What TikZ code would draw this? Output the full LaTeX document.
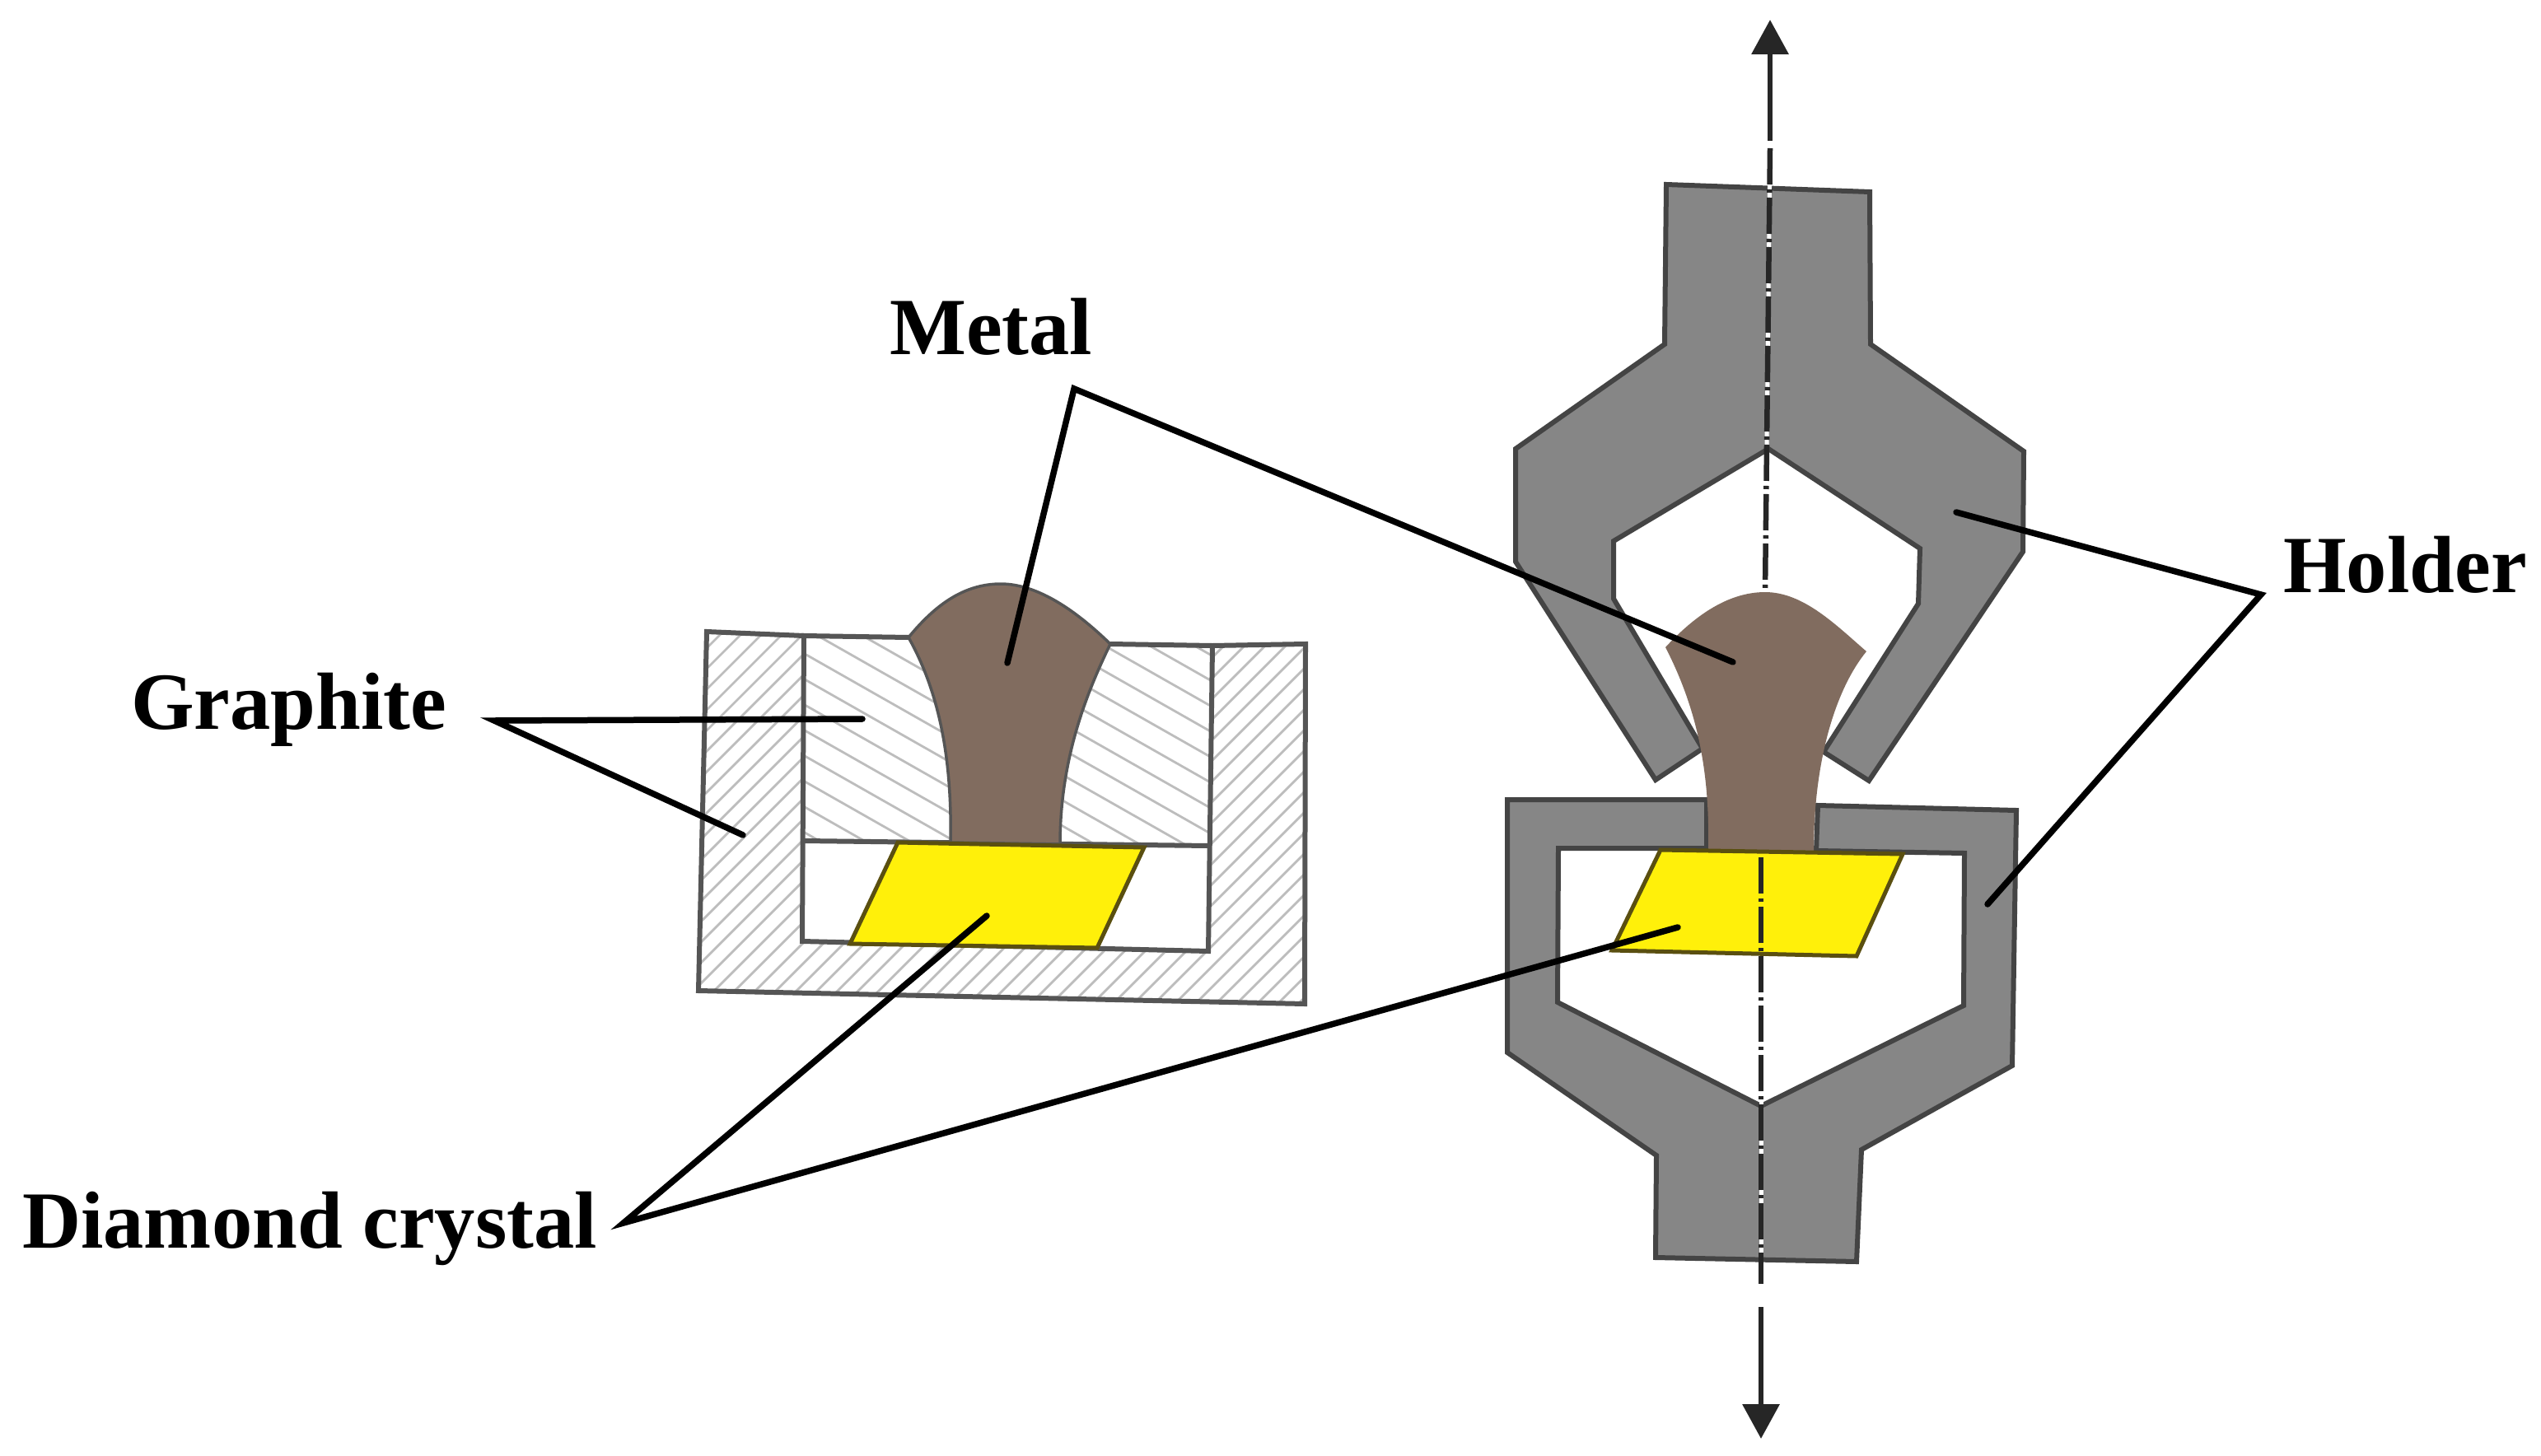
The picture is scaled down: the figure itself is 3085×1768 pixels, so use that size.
\documentclass[tikz,border=0pt]{standalone}
\usepackage{fontspec}
\setmainfont{Liberation Serif}
\usetikzlibrary{arrows.meta}
\definecolor{holderfill}{HTML}{868686}
\definecolor{holderline}{HTML}{444444}
\definecolor{metalfill}{HTML}{816C5F}
\definecolor{crystalfill}{HTML}{FFF00A}
\definecolor{crystalline}{HTML}{5A4F10}
\definecolor{hatchcol}{HTML}{BDBDBD}
\definecolor{graphline}{HTML}{555555}
\tikzset{
  labeltext/.style={anchor=base west,inner sep=0pt,font=\fontsize{98.5}{99}\selectfont\bfseries,text=black},
  leader/.style={draw=black,line width=7.5pt,line cap=round,line join=miter},
  holder/.style={fill=holderfill,draw=holderline,line width=6pt,line join=miter},
  metal/.style={fill=metalfill,line join=round},
  crystal/.style={fill=crystalfill,draw=crystalline,line width=5pt,line join=miter},
  graphoutline/.style={draw=graphline,line width=6pt},
  hatchline/.style={draw=hatchcol,line width=2.8pt},
  axisunder/.style={draw=white,line width=5pt},
  axisdash/.style={draw=black!85,line width=6.5pt,dash pattern=on 44pt off 6pt on 4pt off 6pt},
  axissolid/.style={draw=black!85,line width=6.5pt},
  axistip/.style={-{Triangle[width=44pt,length=42pt]}},
}
\begin{document}
\begin{tikzpicture}[x=1pt,y=-1pt]
\useasboundingbox (0,0) rectangle (3085,1768);
\fill[white] (0,0) rectangle (3085,1768);
% graphite hatching
\begin{scope}
\clip (858,767) -- (976,772) -- (974,1143) -- (1467,1155) -- (1472,784) -- (1585,782) -- (1584,1219) -- (848,1203) -- cycle;
\foreach \k in {-20,...,42}
  \draw[hatchline] ({840+\k*25},1230) -- ({840+\k*25+480},750);
\end{scope}
\begin{scope}
\clip (976,772) -- (1472,784) -- (1468,1027) -- (976,1021) -- cycle;
\foreach \k in {-20,...,10}
  \draw[hatchline] (970,{790+\k*31}) -- (1480,{790+\k*31+290});
\end{scope}
% graphite outlines
\draw[graphoutline,line join=miter] (976,772) -- (858,767) -- (848,1203) -- (1584,1219) -- (1585,782) -- (1472,784);
\draw[graphoutline,line join=miter] (1103,774) -- (976,772) -- (974,1143) -- (1467,1155) -- (1472,784) -- (1348,782);
\draw[graphoutline] (976,1021) -- (1468,1027);
% left metal
\path[metal,draw=graphline,line width=3.5pt]
  (1103,774) .. controls (1135,735) and (1170,709) .. (1215,709)
  .. controls (1262,709) and (1310,745) .. (1348,782)
  .. controls (1320,840) and (1287,920) .. (1287,1025)
  -- (1154,1023)
  .. controls (1156,920) and (1140,840) .. (1103,774) -- cycle;
\draw[crystal] (1090,1023) -- (1389,1029) -- (1332,1151) -- (1032,1146) -- cycle;
% upper holder
\draw[holder] (2023,224) -- (2270,233) -- (2271,418) -- (2457,548) -- (2456,670) -- (2269,948) -- (2214,913) -- (2329,733) -- (2331,666) -- (2147,545) -- (1959,657) -- (1959,727) -- (2067,909) -- (2010,947) -- (1840,682) -- (1840,545) -- (2021,418) -- cycle;
% lower holder
\draw[holder] (1830,971) -- (2072,971) -- (2072,1030) -- (1892,1030) -- (1891,1217) -- (2138,1343) -- (2384,1221) -- (2385,1036) -- (2205,1033) -- (2207,978) -- (2448,984) -- (2443,1294) -- (2260,1396) -- (2254,1532) -- (2010,1527) -- (2011,1403) -- (1830,1278) -- cycle;
% axis under the metal (upper part)
\coordinate (axtopA) at (2149,171);
\coordinate (axtip) at (2149,24);
\coordinate (axmidA) at (2149,180);
\coordinate (axmidB) at (2143,719);
\coordinate (axlowA) at (2138,1041);
\coordinate (axlowC) at (2138,1165);
\coordinate (axlowB) at (2138,1559);
\coordinate (axbotA) at (2138,1587);
\coordinate (axbot) at (2138,1747);
\draw[axisunder] (axmidA) -- (axmidB);
\draw[axisdash] (axmidA) -- (axmidB);
% right metal
\path[metal]
  (2022,786) .. controls (2060,745) and (2100,719) .. (2143,719)
  .. controls (2190,719) and (2230,760) .. (2266,791)
  .. controls (2230,835) and (2202,920) .. (2202,1033)
  -- (2074,1032)
  .. controls (2076,935) and (2060,860) .. (2022,786) -- cycle;
\draw[crystal] (2016,1032) -- (2310,1037) -- (2254,1161) -- (1957,1154) -- cycle;
\draw[axisunder] (axlowC) -- (axlowB);
\draw[axisdash] (axlowA) -- (axlowB);
\draw[axissolid,axistip] (axtopA) -- (axtip);
\draw[axissolid,axistip] (axbotA) -- (axbot);
% labels
\node[labeltext] (metallabel) at (1080,430) {Metal};
\node[labeltext] (graphitelabel) at (159,885) {Graphite};
\node[labeltext] (holderlabel) at (2772,719) {Holder};
\node[labeltext] (diamondlabel) at (27,1515) {Diamond crystal};
% leader ends
\coordinate (metalapex) at (1304,472);
\coordinate (metalL) at (1223,805);
\coordinate (metalR) at (2104,804);
\coordinate (graphapex) at (600,875);
\coordinate (graphA) at (1047,873);
\coordinate (graphB) at (902,1014);
\coordinate (holdapex) at (2745,722);
\coordinate (holdA) at (2375,622);
\coordinate (holdB) at (2413,1098);
\coordinate (diaapex) at (757,1485);
\coordinate (diaA) at (1198,1112);
\coordinate (diaB) at (2037,1126);
\draw[leader] (metalL) -- (metalapex) -- (metalR);
\draw[leader] (graphA) -- (graphapex) -- (graphB);
\draw[leader] (holdA) -- (holdapex) -- (holdB);
\draw[leader] (diaA) -- (diaapex) -- (diaB);
\end{tikzpicture}
\end{document}
